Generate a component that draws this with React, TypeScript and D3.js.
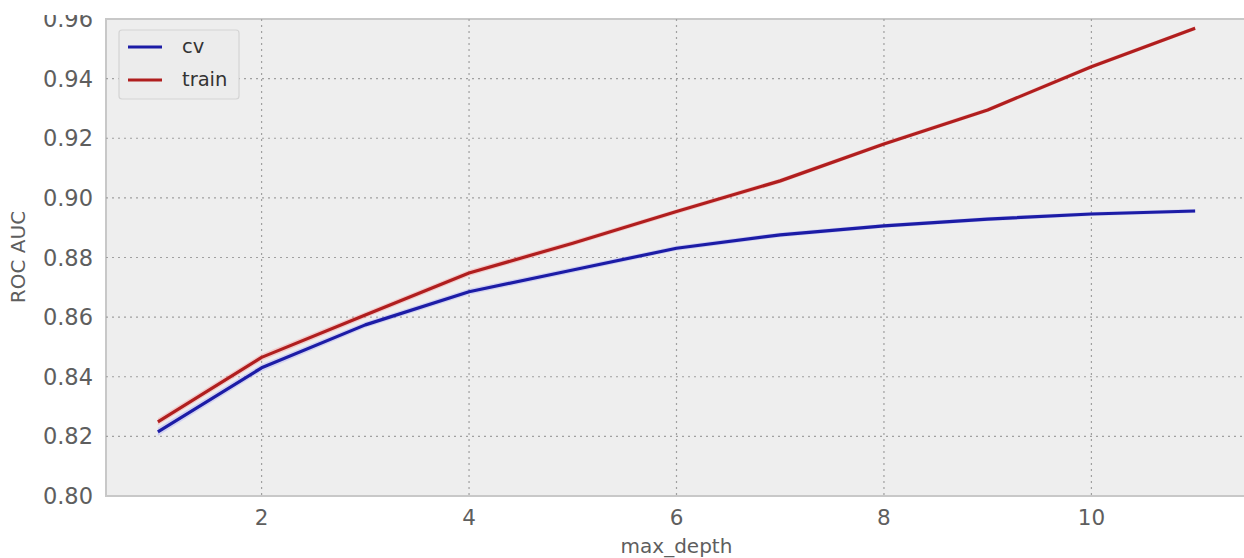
import * as d3 from "d3";

// max_depth values and mean ROC AUC for each series
const depths = [1, 2, 3, 4, 5, 6, 7, 8, 9, 10, 11];
const cvMean = [0.8215, 0.8430, 0.8574, 0.8685, 0.8758, 0.8831, 0.8876, 0.8906, 0.8929, 0.8946, 0.8956];
const cvStd = [0.0014, 0.0012, 0.0010, 0.0010, 0.0009, 0.0008, 0.0008, 0.0007, 0.0007, 0.0007, 0.0007];
const trainMean = [0.8249, 0.8465, 0.8607, 0.8748, 0.8848, 0.8954, 0.9057, 0.9181, 0.9295, 0.9440, 0.9569];
const trainStd = [0.0012, 0.0011, 0.0010, 0.0010, 0.0009, 0.0008, 0.0008, 0.0007, 0.0007, 0.0007, 0.0007];
const xTicks = [2, 4, 6, 8, 10];
const yTicks = [0.80, 0.82, 0.84, 0.86, 0.88, 0.90, 0.92, 0.94, 0.96];

const W = 1244;
const H = 558;
const left = 106;
const top = 19;
const bottom = 496;

const App = () => {
  const x = d3.scaleLinear().domain([0.5, 11.5]).range([left, 1247]);
  const y = d3.scaleLinear().domain([0.8, 0.96]).range([bottom, top]);

  const line = d3.line<number>().x((_, i) => x(depths[i])).y((d) => y(d));
  const band = (m: number[], s: number[]) =>
    d3.area<number>()
      .x((_, i) => x(depths[i]))
      .y0((d, i) => y(d - s[i]))
      .y1((d, i) => y(d + s[i]))(m) as string;

  const font = "'DejaVu Sans', sans-serif";
  const tickColor = "#5e5e5e";

  return (
    <svg width={W} height={H} style={{ position: "absolute", left: 0, top: 0 }} fontFamily={font}>
      <rect x={0} y={0} width={W} height={H} fill="#fff" />
      <clipPath id="plot">
        <rect x={left} y={top} width={W - left} height={bottom - top} />
      </clipPath>
      <rect x={left} y={top} width={W - left + 2} height={bottom - top} fill="#eeeeee" stroke="#c8c8c8" strokeWidth={2} />

      {/* grid */}
      {yTicks.slice(1, -1).map((t) => (
        <line key={"gy" + t} x1={left} x2={W} y1={y(t)} y2={y(t)} stroke="#a0a0a0" strokeWidth={1.2} strokeDasharray="2,4" />
      ))}
      {xTicks.map((t) => (
        <line key={"gx" + t} x1={x(t)} x2={x(t)} y1={top} y2={bottom} stroke="#a0a0a0" strokeWidth={1.2} strokeDasharray="2,4" />
      ))}

      <g clipPath="url(#plot)">
        <path d={band(cvMean, cvStd)} fill="#6060ff" opacity={0.2} />
        <path d={band(trainMean, trainStd)} fill="#ff6060" opacity={0.25} />
        <path d={line(cvMean) as string} fill="none" stroke="#1c1ca6" strokeWidth={3.2} strokeLinejoin="round" />
        <path d={line(trainMean) as string} fill="none" stroke="#b01e1e" strokeWidth={3.2} strokeLinejoin="round" />
      </g>

      {/* y tick labels */}
      {yTicks.map((t) => (
        <text key={"ty" + t} x={93} y={y(t)} dy="0.36em" textAnchor="end" fontSize={22.5} fill={tickColor}>
          {t.toFixed(2)}
        </text>
      ))}
      {/* the figure above overlaps the top of the first label */}
      <rect x={0} y={0} width={left - 2} height={15} fill="#fff" />

      {/* x tick labels */}
      {xTicks.map((t) => (
        <text key={"tx" + t} x={x(t)} y={525} textAnchor="middle" fontSize={21.5} fill={tickColor}>
          {t}
        </text>
      ))}

      <text x={x(6)} y={553} textAnchor="middle" fontSize={20} fill={tickColor}>max_depth</text>
      <text transform={`translate(25,257) rotate(-90)`} textAnchor="middle" fontSize={20} fill={tickColor}>ROC AUC</text>

      {/* legend */}
      <g>
        <rect x={119} y={30} width={120} height={69} rx={3} fill="#ececec" stroke="#d4d4d4" strokeWidth={1.2} />
        <line x1={128} x2={162} y1={47} y2={47} stroke="#1c1ca6" strokeWidth={3} />
        <line x1={128} x2={162} y1={80} y2={80} stroke="#b01e1e" strokeWidth={3} />
        <text x={182} y={47} dy="0.32em" fontSize={19.5} fill="#333">cv</text>
        <text x={182} y={80} dy="0.32em" fontSize={19.5} fill="#333">train</text>
      </g>
    </svg>
  );
};

export default App;
